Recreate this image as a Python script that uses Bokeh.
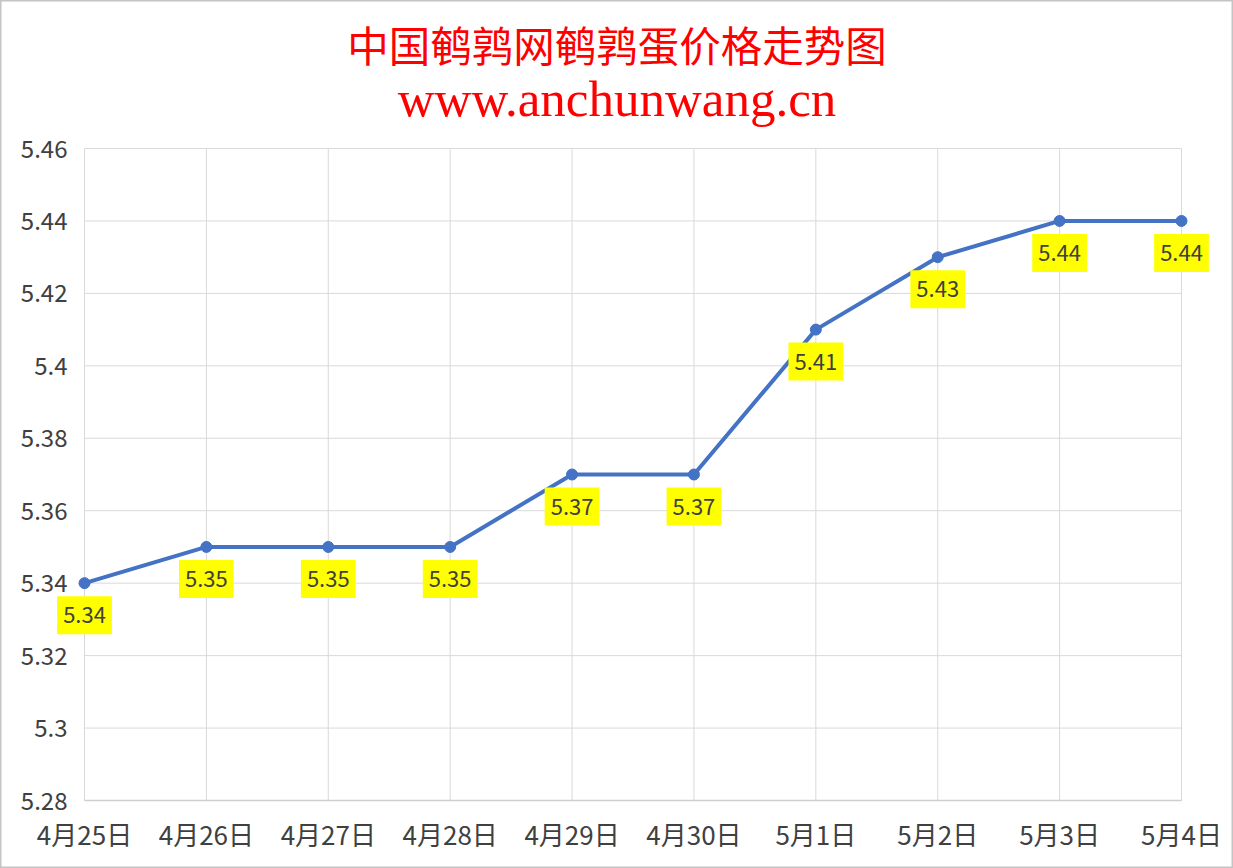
from bokeh.plotting import figure
from bokeh.models import Range1d, ColumnDataSource
from bokeh.core.properties import value
from bokeh.embed import file_html
from bokeh.resources import INLINE

title_cn = "中国鹌鹑网鹌鹑蛋价格走势图"
title_url = "www.anchunwang.cn"
dates = ["4月25日", "4月26日", "4月27日", "4月28日", "4月29日", "4月30日",
         "5月1日", "5月2日", "5月3日", "5月4日"]
prices = [5.34, 5.35, 5.35, 5.35, 5.37, 5.37, 5.41, 5.43, 5.44, 5.44]
y_ticks = [5.28, 5.30, 5.32, 5.34, 5.36, 5.38, 5.40, 5.42, 5.44, 5.46]

# canvas geometry (pixels): plot area inside the canvas
W, H = 1233, 868
PL, PR, PT, PB = 84, 1181, 148, 800
ymin, ymax = y_ticks[0], y_ticks[-1]
n = len(dates)
xs = list(range(n))
ux = (PR - PL) / (n - 1)          # px per x unit
uy = (PB - PT) / (ymax - ymin)    # px per y unit

p = figure(width=W, height=H, output_backend="svg", toolbar_location=None,
           x_range=Range1d(-PL / ux, (n - 1) + (W - PR) / ux),
           y_range=Range1d(ymin - (H - PB) / uy, ymax + PT / uy),
           min_border=0, x_axis_location=None, y_axis_location=None,
           background_fill_color="white", border_fill_color="white")
p.outline_line_color = "#c4c4c4"
p.outline_line_width = 2
p.grid.visible = False

FONT = "Noto Sans CJK SC"
TXT = "#404040"
GRID = "#d9d9d9"

# grid lines
p.segment(x0=[0] * len(y_ticks), y0=y_ticks, x1=[n - 1] * len(y_ticks), y1=y_ticks,
          line_color=GRID, line_width=1)
p.segment(x0=xs, y0=[ymin] * n, x1=xs, y1=[ymax] * n, line_color=GRID, line_width=1)
# x axis line
p.segment(x0=[0], y0=[ymin], x1=[n - 1], y1=[ymin], line_color="#cfcfcf", line_width=1.5)

# tick labels
ylab = ["%g" % t for t in y_ticks]
p.text(x=[0] * len(y_ticks), y=y_ticks, text=ylab, x_offset=-17,
       text_align="right", text_baseline="middle",
       text_font=value(FONT), text_font_size="24px", text_color=TXT)
p.text(x=xs, y=[ymin] * n, text=dates, y_offset=33,
       text_align="center", text_baseline="middle",
       text_font=value(FONT), text_font_size="26px", text_color=TXT)

# series
src = ColumnDataSource(dict(x=xs, y=prices, label=["%.2f" % v for v in prices]))
p.line("x", "y", source=src, line_color="#4472C4", line_width=4)
p.scatter("x", "y", source=src, size=11, fill_color="#4472C4", line_color="#4472C4")
p.text("x", "y", text="label", source=src, y_offset=32,
       text_align="center", text_baseline="middle",
       text_font=value(FONT), text_font_size="22px", text_color=TXT,
       background_fill_color="#FFFF00", padding=(6, 11))

# titles
cx = (W / 2 - PL) / ux
p.text(x=[cx], y=[ymax + (PT - 43) / uy], text=[title_cn],
       text_align="center", text_baseline="middle",
       text_font=value(FONT), text_font_size="41.5px", text_color="#FF0000")
p.text(x=[cx], y=[ymax + (PT - 98) / uy], text=[title_url],
       text_align="center", text_baseline="alphabetic",
       text_font=value("Liberation Serif"), text_font_size="51px", text_color="#FF0000")

open("out.html", "w").write(file_html(p, INLINE))
